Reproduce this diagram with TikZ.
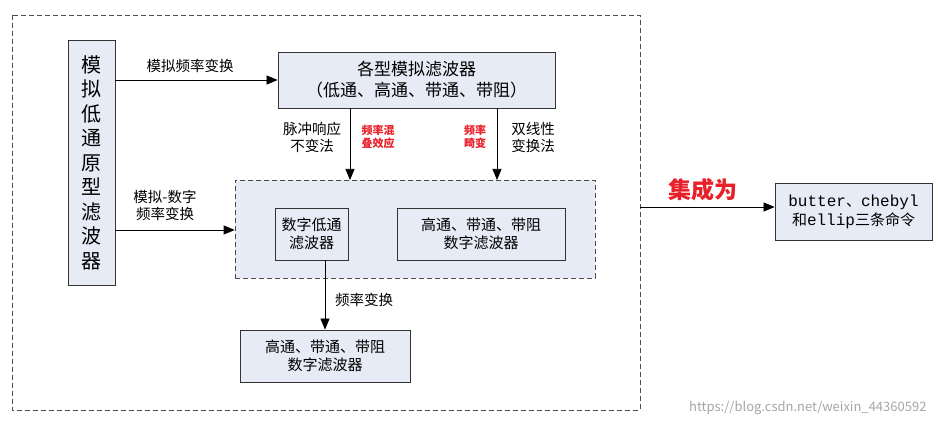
\documentclass[tikz,border=0pt]{standalone}
\usepackage{fontspec}
\setmainfont{Noto Sans CJK SC}
\newfontfamily\mono{Liberation Mono}
\usetikzlibrary{arrows.meta}
\definecolor{bx}{HTML}{E6EBF5}
\definecolor{red1}{HTML}{E8202A}
\begin{document}
\begin{tikzpicture}[x=1pt,y=-1pt,
  box/.style={draw=black!80,fill=bx,line width=0.8pt,inner sep=0pt,align=center},
  arr/.style={-{Triangle[length=11pt,width=9pt]},line width=0.7pt},
  dsh/.style={dash pattern=on 5pt off 3pt},
  lbl/.style={font=\fontsize{14.5}{17}\selectfont,align=center},
  rlbl/.style={font=\fontsize{11}{13}\selectfont\bfseries,text=red1,align=center}]
\useasboundingbox[fill=white] (0,0) rectangle (938,425);
\draw[dsh,line width=0.7pt,draw=black!70] (12,15) rectangle (640,410);
\node[box,minimum width=47pt,minimum height=245pt,font=\fontsize{20}{24.5}\selectfont] (lp) at (91.5,162.5) {模\\拟\\低\\通\\原\\型\\滤\\波\\器};
\node[box,minimum width=277pt,minimum height=56pt,font=\fontsize{17}{21}\selectfont] (af) at (416.5,80) {各型模拟滤波器\\（低通、高通、带通、带阻）};
\node[draw=black!70,dsh,fill=bx,line width=0.7pt,minimum width=360pt,minimum height=98pt] (dg) at (415,229) {};
\node[box,minimum width=73pt,minimum height=52pt,font=\fontsize{15}{18}\selectfont] (dl) at (311.5,234) {数字低通\\滤波器};
\node[box,minimum width=168pt,minimum height=52pt,font=\fontsize{15}{18}\selectfont] (dh) at (481,234) {高通、带通、带阻\\数字滤波器};
\node[box,minimum width=170pt,minimum height=52pt,font=\fontsize{15}{18}\selectfont] (bt) at (325,356) {高通、带通、带阻\\数字滤波器};
\node[box,minimum width=157pt,minimum height=57pt,font=\fontsize{15}{19}\selectfont] (rt) at (853.5,211.5) {{\mono\fontsize{16}{19}\selectfont butter}、{\mono\fontsize{16}{19}\selectfont chebyl}\\和{\mono\fontsize{16}{19}\selectfont ellip}三条命令};
\coordinate (a1) at (115,80);
\coordinate (a2) at (115,230);
\coordinate (o1) at (640,207);
\draw[arr] (a1) -- (af.west);
\draw[arr] (a2) -- (a2 -| dg.west);
\draw[arr] (350,108) -- (350,180);
\draw[arr] (497,108) -- (497,180);
\draw[arr] (dl.south -| 325,0) -- (bt.north -| 325,0);
\draw[arr] (o1) -- (rt.west |- o1);
\node[lbl] (t1) at (190,66) {模拟频率变换};
\node[lbl] (t2) at (312,137) {脉冲响应\\不变法};
\node[rlbl] (t3) at (378,137) {频率混\\叠效应};
\node[rlbl] (t4) at (475,137) {频率\\畸变};
\node[lbl] (t5) at (533,137) {双线性\\变换法};
\node[lbl] (t6) at (165,205) {模拟-数字\\频率变换};
\node[lbl] (t7) at (364,300) {频率变换};
\node[font=\fontsize{23}{25}\selectfont\bfseries,text=red1] (t8) at (703,190) {集成为};
\node[font=\fontsize{13}{15}\selectfont,text=black!35,anchor=east] (wm) at (930,408) {https://blog.csdn.net/weixin\_44360592};
\end{tikzpicture}
\end{document}
